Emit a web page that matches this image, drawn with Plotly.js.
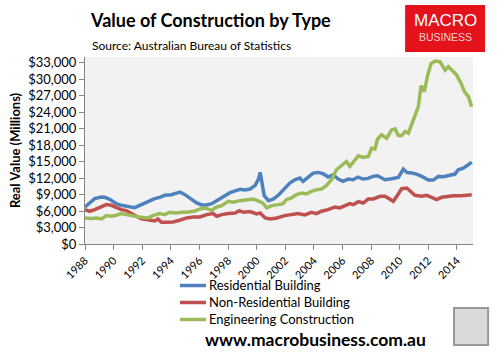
<!DOCTYPE html>
<html>
<head>
<meta charset="utf-8">
<script src="https://cdn.plot.ly/plotly-3.0.1.min.js"></script>
<style>
html,body{margin:0;padding:0;background:#fff;}
#chart{width:501px;height:352px;}
</style>
</head>
<body>
<div id="chart"></div>
<script>
// Residential Building
var resYears = [1988.0,1988.33,1988.68,1989.14,1989.38,1989.73,1990.19,1990.54,1991.0,1991.47,1991.94,1992.4,1992.87,1993.22,1993.57,1994.03,1994.5,1994.64,1994.99,1995.34,1995.81,1996.16,1996.51,1996.86,1997.33,1997.79,1998.14,1998.61,1998.84,1999.19,1999.54,1999.9,2000.13,2000.25,2000.39,2000.53,2000.83,2001.18,2001.53,2001.85,2002.32,2002.67,2003.02,2003.25,2003.6,2003.95,2004.3,2004.65,2005.0,2005.35,2005.7,2006.05,2006.4,2006.74,2007.09,2007.44,2007.79,2008.14,2008.45,2008.63,2008.98,2009.44,2009.91,2010.26,2010.5,2010.84,2011.19,2011.54,2012.01,2012.36,2012.71,2013.06,2013.41,2013.87,2014.1,2014.45,2014.8,2015.04];
var resValues = [6740,7470,8245,8547,8487,8124,7339,7035,6853,6614,7157,7761,8245,8486,8849,8970,9453,9450,8969,8365,7460,7097,7097,7339,8124,8849,9332,9754,9935,9814,9996,10660,11810,13016,10780,8788,7882,8184,8900,9875,11084,11687,11990,11385,12171,12896,13016,12775,12171,12593,11809,11385,11809,11687,12171,11809,11930,12292,12413,12110,11687,11870,12110,13620,13016,12895,12714,12290,11627,11627,12290,12230,12473,12714,13500,13802,14406,14889];

// Non-Residential Building
var nonResYears = [1988.0,1988.33,1988.68,1989.14,1989.49,1989.84,1990.19,1990.54,1990.89,1991.24,1991.59,1991.94,1992.29,1992.64,1992.87,1993.1,1993.34,1993.69,1994.15,1994.62,1995.11,1995.57,1996.04,1996.51,1996.97,1997.21,1997.56,1998.02,1998.49,1998.79,1999.07,1999.54,2000.0,2000.24,2000.6,2000.95,2001.41,2001.97,2002.43,2002.9,2003.37,2003.83,2004.18,2004.53,2005.0,2005.47,2005.82,2006.17,2006.52,2006.76,2007.11,2007.46,2007.81,2008.16,2008.46,2008.63,2008.98,2009.21,2009.56,2009.8,2010.14,2010.5,2010.73,2011.07,2011.54,2011.89,2012.24,2012.59,2012.94,2013.29,2013.76,2014.34,2015.04];
var nonResValues = [6251,5949,6251,6855,7157,7037,6554,6251,6070,5527,4950,4561,4439,4318,4197,4561,3956,3956,4016,4318,4742,4924,4924,5345,5527,5043,5345,5527,5648,6070,5769,5890,5467,5648,4742,4561,4742,5164,5345,5527,5285,5768,5527,5949,6251,6735,6553,6976,7339,7158,7701,7459,8184,8184,8547,8667,8667,8366,7761,8667,10057,10178,9694,8848,8667,8848,8487,8063,8487,8667,8788,8788,8969];

// Engineering Construction
var engYears = [1988.0,1988.47,1988.82,1989.17,1989.49,1989.84,1990.19,1990.54,1990.89,1991.24,1991.59,1991.94,1992.4,1992.75,1993.22,1993.57,1993.92,1994.38,1994.8,1995.11,1995.69,1996.04,1996.39,1996.63,1996.86,1997.21,1997.56,1998.02,1998.37,1998.84,1999.3,1999.77,2000.13,2000.43,2000.71,2001.06,2001.53,2001.85,2002.08,2002.43,2002.78,2003.13,2003.48,2003.83,2004.18,2004.53,2004.88,2005.23,2005.58,2005.93,2006.28,2006.52,2006.76,2007.11,2007.46,2007.81,2008.04,2008.27,2008.45,2008.74,2009.09,2009.44,2009.68,2009.91,2010.14,2010.38,2010.61,2010.84,2011.07,2011.31,2011.5,2011.73,2011.96,2012.2,2012.48,2012.83,2013.18,2013.41,2013.64,2013.99,2014.3,2014.53,2014.81,2015.04];
var engValues = [4742,4621,4742,4561,5164,5043,5224,5527,5345,5164,4924,4863,4742,5164,5527,5345,5768,5648,5768,5769,6010,6373,6554,6251,6131,6735,6976,7761,7582,7882,8063,8184,7800,7460,6554,6976,7158,7339,8063,8366,8969,9272,9090,9573,9875,9996,10600,11687,13500,14224,15009,14103,14828,16036,15734,15915,17426,17245,19057,19841,19238,20747,20928,19720,19720,20445,20142,21653,23163,24975,28780,27693,30713,32828,33250,33130,31619,32223,31619,30713,29203,27693,26787,24975];

var seriesNames = ['Residential Building','Non-Residential Building','Engineering Construction'];
var seriesColors = ['#4F81BD','#C0504D','#9BBB59'];

var yTickVals = [0,3000,6000,9000,12000,15000,18000,21000,24000,27000,30000,33000];
var yTickText = ['$0','$3,000','$6,000','$9,000','$12,000','$15,000','$18,000','$21,000','$24,000','$27,000','$30,000','$33,000'];
var xTickVals = [1988,1990,1992,1994,1996,1998,2000,2002,2004,2006,2008,2010,2012,2014];
var xTickText = xTickVals.map(String);

var FONT = 'Lato, "Open Sans", sans-serif';

var xs = [resYears, nonResYears, engYears];
var ys = [resValues, nonResValues, engValues];
var traces = xs.map(function(x, i){
  return {
    x: x, y: ys[i], type: 'scatter', mode: 'lines',
    name: seriesNames[i],
    line: {color: seriesColors[i], width: 3.5},
    hoverinfo: 'skip'
  };
});

// Manual legend (swatch + label) positioned below the plot
var legendRowsY = [-0.2219, -0.3128, -0.4037];
var legendShapes = seriesColors.map(function(c, i){
  return {type: 'line', xref: 'paper', yref: 'paper', x0: 0.2448, x1: 0.3119,
          y0: legendRowsY[i], y1: legendRowsY[i], line: {color: c, width: 3.5}};
});
var legendLabels = seriesNames.map(function(n, i){
  return {text: n, xref: 'paper', yref: 'paper', x: 0.3170, y: legendRowsY[i],
          xanchor: 'left', yanchor: 'middle', showarrow: false, height: 14, borderpad: 0,
          font: {family: FONT, size: 13, color: '#000'}};
});

var layout = {
  width: 501, height: 352,
  margin: {l: 85, r: 28, t: 57, b: 108, pad: 0},
  paper_bgcolor: '#FFFFFF',
  plot_bgcolor: '#F2F2F2',
  showlegend: false,
  font: {family: FONT, color: '#000', size: 12},
  xaxis: {
    range: [1988, 2015.13], tickvals: xTickVals, ticktext: xTickText,
    tickangle: -45, showgrid: false, zeroline: false, automargin: false,
    showline: true, linecolor: '#868686', linewidth: 1,
    ticks: 'outside', ticklen: 5, tickcolor: '#868686',
    tickfont: {family: FONT, size: 11, color: '#000'}
  },
  yaxis: {
    range: [0, 34000], tickvals: yTickVals, ticktext: yTickText,
    showgrid: false, zeroline: false, automargin: false,
    showline: true, linecolor: '#868686', linewidth: 1,
    ticks: 'outside', ticklen: 5, tickcolor: '#868686',
    tickfont: {family: FONT, size: 13, color: '#000'}
  },
  shapes: [
    {type: 'rect', xref: 'paper', yref: 'paper', x0: 0.825, x1: 1.031, y0: 1.027, y1: 1.278,
     fillcolor: '#E3121B', line: {width: 0}, layer: 'above'},
    {type: 'rect', xref: 'paper', yref: 'paper', x0: 0.951, x1: 1.039, y0: -0.540, y1: -0.342,
     fillcolor: '#D9D9D9', line: {width: 2, color: '#9A9A9A'}, layer: 'above'}
  ].concat(legendShapes),
  annotations: [
    {text: '<b>Value of Construction by Type</b>', xref: 'paper', yref: 'paper', x: 0.0077, y: 1.198,
     xanchor: 'left', yanchor: 'middle', showarrow: false, font: {family: FONT, size: 18, color: '#000'}},
    {text: 'Source: Australian Bureau of Statistics', xref: 'paper', yref: 'paper', x: 0.0129, y: 1.064,
     xanchor: 'left', yanchor: 'middle', showarrow: false, font: {family: FONT, size: 12, color: '#000'}},
    {text: 'MACRO', xref: 'paper', yref: 'paper', x: 0.928, y: 1.195,
     xanchor: 'center', yanchor: 'middle', showarrow: false, font: {family: '"Liberation Sans", Arial, sans-serif', size: 17, color: '#FFFFFF'}},
    {text: 'BUSINESS', xref: 'paper', yref: 'paper', x: 0.928, y: 1.105,
     xanchor: 'center', yanchor: 'middle', showarrow: false, font: {family: '"Liberation Sans", Arial, sans-serif', size: 10.5, color: '#F6D0D0'}},
    {text: '<b>Real Value (Millions)</b>', xref: 'paper', yref: 'paper', x: -0.18, y: 0.503,
     xanchor: 'center', yanchor: 'middle', textangle: -90, showarrow: false, font: {family: FONT, size: 13, color: '#000'}},
    {text: '<b>www.macrobusiness.com.au</b>', xref: 'paper', yref: 'paper', x: 0.595, y: -0.508,
     xanchor: 'center', yanchor: 'middle', showarrow: false, height: 18, borderpad: 0, font: {family: FONT, size: 17.5, color: '#000'}}
  ].concat(legendLabels)
};

Plotly.newPlot('chart', traces, layout, {staticPlot: true, displayModeBar: false});
</script>
</body>
</html>
